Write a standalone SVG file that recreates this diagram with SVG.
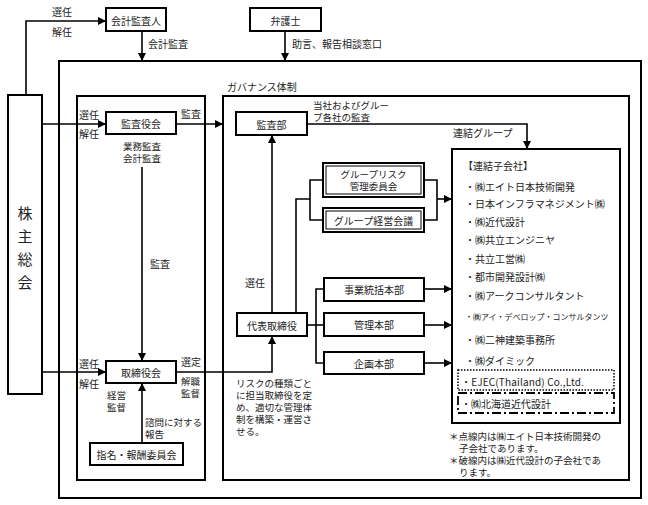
<svg xmlns="http://www.w3.org/2000/svg" width="648" height="505" viewBox="0 0 648 505">
<defs>
<marker id="ah" viewBox="0 0 10 10" refX="10" refY="5" markerWidth="8" markerHeight="8" markerUnits="userSpaceOnUse" orient="auto">
<path d="M0,0 L10,5 L0,10 z" fill="#000"/>
</marker>
<style>
text{font-family:"Noto Sans CJK JP","Noto Sans",sans-serif;font-size:10px;fill:#222;dominant-baseline:central}
.c{text-anchor:middle}
.m{font-size:9.5px}
.box{fill:#fff;stroke:#000;stroke-width:2}
.frame{fill:none;stroke:#000;stroke-width:2}
.in{fill:none;stroke:#000;stroke-width:1}
.ln{fill:none;stroke:#000;stroke-width:1.6}
.ar{fill:none;stroke:#000;stroke-width:1.6;marker-end:url(#ah)}
.big{font-size:15px}
.sm{font-size:8px}
</style>
</defs>
<rect width="648" height="505" fill="#fff"/>

<g id="frames">
<rect class="frame" x="59" y="61" width="582" height="437"/>
<rect class="frame" x="77" y="96" width="128" height="384"/>
<rect class="frame" x="223" y="96" width="406" height="384"/>
<text x="227" y="86">ガバナンス体制</text>
</g>

<g id="connectors">
<path class="ar" d="M26,95 V21 H106"/>
<path class="ar" d="M142,31 V61"/>
<path class="ar" d="M285,31 V61"/>
<path class="ar" d="M42,124 H106"/>
<path class="ar" d="M176,124 H223"/>
<path class="ar" d="M142,167 V361"/>
<path class="ar" d="M42,372 H106"/>
<path class="ar" d="M142,443 V383"/>
<path class="ar" d="M176,372 H272 V336"/>
<path class="ar" d="M272,313 V135"/>
<path class="ar" d="M307,124 H527 V149"/>
<path class="ln" d="M296,313 V199 H310"/>
<path class="ln" d="M323,180 H310 V220 H323"/>
<path class="ln" d="M424,180 H437 V220 H424"/>
<path class="ar" d="M437,199 H452"/>
<path class="ln" d="M307,325 H324"/>
<path class="ln" d="M324,289 H316 V363 H324"/>
<path class="ar" d="M424,289 H452"/>
<path class="ar" d="M424,325 H452"/>
<path class="ar" d="M424,363 H452"/>
</g>

<g id="labels">
<text x="52" y="11">選任</text>
<text x="52" y="31">解任</text>
<text x="148" y="43">会計監査</text>
<text x="292" y="43">助言、報告相談窓口</text>
<text x="79" y="114">選任</text>
<text x="79" y="133">解任</text>
<text x="181" y="113">監査</text>
<text class="m" x="313" y="105">当社およびグルー</text>
<text class="m" x="313" y="117">プ各社の監査</text>
<text class="c m" x="142" y="146">業務監査</text>
<text class="c m" x="142" y="158">会計監査</text>
<text x="150" y="263">監査</text>
<text x="79" y="363">選任</text>
<text x="79" y="383">解任</text>
<text x="181" y="361">選定</text>
<text class="m" x="181" y="381">解職</text>
<text class="m" x="181" y="393">監督</text>
<text class="m" x="107" y="395">経営</text>
<text class="m" x="107" y="407">監督</text>
<text class="m" x="145" y="422">諮問に対する</text>
<text class="m" x="145" y="434">報告</text>
<text x="245" y="282">選任</text>
<text x="453" y="132">連結グループ</text>
<text class="m" x="236" y="383">リスクの種類ごと</text>
<text class="m" x="236" y="395">に担当取締役を定</text>
<text class="m" x="236" y="407">め、適切な管理体</text>
<text class="m" x="236" y="419">制を構築・運営さ</text>
<text class="m" x="236" y="431">せる。</text>
</g>

<g id="shareholders">
<rect class="box" x="8" y="95" width="34" height="299"/>
<text class="c big" x="25" y="212">株</text>
<text class="c big" x="25" y="235">主</text>
<text class="c big" x="25" y="258">総</text>
<text class="c big" x="25" y="281">会</text>
</g>

<g id="auditor">
<rect class="box" x="106" y="8" width="60" height="23"/>
<text class="c" x="136" y="20">会計監査人</text>
</g>

<g id="lawyer">
<rect class="box" x="250" y="8" width="71" height="23"/>
<text class="c" x="285.500" y="20">弁護士</text>
</g>

<g id="kansayakukai">
<rect class="box" x="106" y="112" width="70" height="22"/>
<text class="c" x="141" y="123">監査役会</text>
</g>

<g id="torishimariyakukai">
<rect class="box" x="106" y="361" width="70" height="22"/>
<text class="c" x="141" y="372">取締役会</text>
</g>

<g id="shimei">
<rect class="box" x="90" y="443" width="93" height="22"/>
<text class="c" x="136.500" y="454">指名・報酬委員会</text>
</g>

<g id="kansabu">
<rect class="box" x="236" y="112" width="71" height="23"/>
<text class="c" x="271.500" y="124">監査部</text>
</g>

<g id="daihyo">
<rect class="box" x="237" y="313" width="70" height="23"/>
<text class="c" x="272" y="325">代表取締役</text>
</g>

<g id="risk">
<rect class="box" x="323" y="163" width="101" height="34" stroke-width="2.5"/>
<rect class="in" x="326" y="166" width="95" height="28"/>
<text class="c m" x="373.500" y="174">グループリスク</text>
<text class="c m" x="373.500" y="186">管理委員会</text>
</g>

<g id="keiei">
<rect class="box" x="323" y="208" width="101" height="24" stroke-width="2.5"/>
<rect class="in" x="326" y="211" width="95" height="18"/>
<text class="c" x="373.500" y="220">グループ経営会議</text>
</g>

<g id="jigyo">
<rect class="box" x="324" y="278" width="100" height="23"/>
<text class="c" x="374" y="289.500">事業統括本部</text>
</g>

<g id="kanri">
<rect class="box" x="324" y="313" width="100" height="23"/>
<text class="c" x="374" y="324.500">管理本部</text>
</g>

<g id="kikaku">
<rect class="box" x="324" y="352" width="100" height="22"/>
<text class="c" x="374" y="363">企画本部</text>
</g>

<g id="subsidiaries">
<rect class="box" x="452" y="149" width="168" height="274"/>
<text x="463" y="165">【連結子会社】</text>
<text x="465" y="186">・㈱エイト日本技術開発</text>
<text x="465" y="203">・日本インフラマネジメント㈱</text>
<text x="465" y="221">・㈱近代設計</text>
<text x="465" y="239">・㈱共立エンジニヤ</text>
<text x="465" y="258">・共立工営㈱</text>
<text x="465" y="276">・都市開発設計㈱</text>
<text x="465" y="295">・㈱アークコンサルタント</text>
<text class="sm" x="465" y="316">・㈱アイ・デベロップ・コンサルタンツ</text>
<text x="465" y="339">・㈱二神建築事務所</text>
<text x="465" y="360">・㈱ダイミック</text>
<rect x="458" y="370" width="156" height="20" fill="none" stroke="#000" stroke-width="1.5" stroke-dasharray="1.5,1.5"/>
<text x="461" y="381" textLength="123" lengthAdjust="spacing">・EJEC(Thailand) Co.,Ltd.</text>
<rect x="458" y="393" width="156" height="20" fill="none" stroke="#000" stroke-width="1.8" stroke-dasharray="9,3,2,3"/>
<text x="461" y="403">・㈱北海道近代設計</text>
</g>

<g id="notes">
<text class="m" x="449" y="436">＊点線内は㈱エイト日本技術開発の</text>
<text class="m" x="459" y="448">子会社であります。</text>
<text class="m" x="449" y="460">＊破線内は㈱近代設計の子会社であ</text>
<text class="m" x="459" y="472">ります。</text>
</g>
</svg>
